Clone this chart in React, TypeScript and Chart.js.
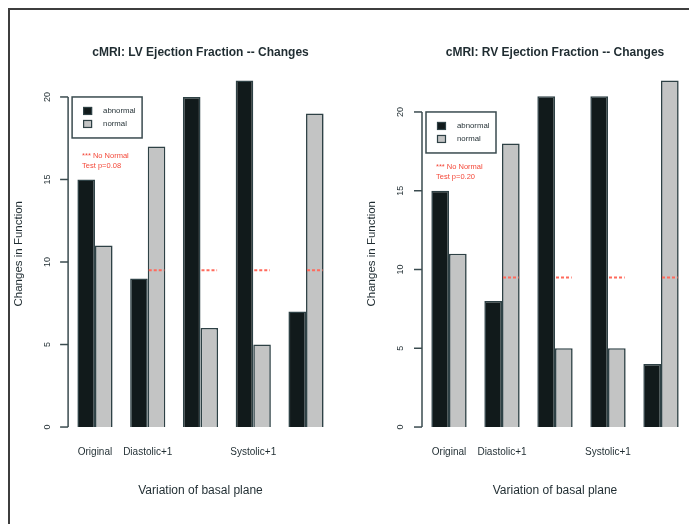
import React, { useEffect, useRef } from 'react';
import { Chart, registerables } from 'chart.js';

Chart.register(...registerables);

// ---------------- data ----------------
const categories = ['Original', 'Diastolic+1', '', 'Systolic+1', ''];
const seriesLabels = ['abnormal', 'normal'];

const lvAbnormal = [15, 9, 20, 21, 7];
const lvNormal = [11, 17, 6, 5, 19];
const lvMarker = [null, 9.5, 9.5, 9.5, 9.5];
const lvRange = [-0.84, 21.84];
const lvNote = ['*** No Normal', 'Test p=0.08'];
const lvNoteY = 16.1;

const rvAbnormal = [15, 8, 21, 21, 4];
const rvNormal = [11, 18, 5, 5, 22];
const rvMarker = [null, 9.5, 9.5, 9.5, 9.5];
const rvRange = [-0.88, 22.88];
const rvNote = ['*** No Normal', 'Test p=0.20'];
const rvNoteY = 16.2;

const yTicks = [0, 5, 10, 15, 20];
const legendTopValue = 20;

const lvTitle = 'cMRI: LV Ejection Fraction -- Changes';
const rvTitle = 'cMRI: RV Ejection Fraction -- Changes';
const xTitle = 'Variation of basal plane';
const yTitle = 'Changes in Function';

// ---------------- styling ----------------
const FONT = '"Liberation Sans", Arial, Helvetica, sans-serif';
const DARK = '#111a1b';
const GREY = '#c3c4c4';
const EDGE = '#2e4145';
const AXIS = '#3a4b4f';
const TEXT = '#1f2c31';
const RED = '#f4493a';

const rDecor = {
  id: 'rDecor',
  afterDatasetsDraw(chart: any, _args: any, o: any) {
    const { ctx, chartArea } = chart;
    const y = chart.scales.y;
    ctx.save();

    // R-style y axis
    const ax = chartArea.left - 0.5;
    const p0 = y.getPixelForValue(o.ticks[0]);
    const p1 = y.getPixelForValue(o.ticks[o.ticks.length - 1]);
    ctx.strokeStyle = AXIS;
    ctx.lineWidth = 1.5;
    ctx.beginPath();
    ctx.moveTo(ax, p0);
    ctx.lineTo(ax, p1);
    ctx.stroke();
    ctx.fillStyle = TEXT;
    ctx.font = `9px ${FONT}`;
    ctx.textAlign = 'center';
    ctx.textBaseline = 'middle';
    for (const t of o.ticks) {
      const py = y.getPixelForValue(t);
      ctx.beginPath();
      ctx.moveTo(ax, py);
      ctx.lineTo(ax - 8, py);
      ctx.stroke();
      ctx.save();
      ctx.translate(ax - 21, py);
      ctx.rotate(-Math.PI / 2);
      ctx.fillText(String(t), 0, 0);
      ctx.restore();
    }

    // red dashed markers over the "normal" bars
    const meta = chart.getDatasetMeta(1);
    ctx.strokeStyle = '#ff6a5c';
    ctx.lineWidth = 2;
    ctx.setLineDash([3, 2]);
    o.markers.forEach((v: number | null, i: number) => {
      if (v === null) return;
      const bar: any = meta.data[i];
      const py = y.getPixelForValue(v);
      ctx.beginPath();
      ctx.moveTo(bar.x - bar.width / 2 + 1, py);
      ctx.lineTo(bar.x + bar.width / 2 - 1, py);
      ctx.stroke();
    });
    ctx.setLineDash([]);

    // legend box
    const lx = chartArea.left + 3.5;
    const ly = y.getPixelForValue(o.legendY);
    ctx.strokeStyle = AXIS;
    ctx.lineWidth = 1.5;
    ctx.strokeRect(lx, ly, 70, 41);
    ctx.font = `7.8px ${FONT}`;
    ctx.textAlign = 'left';
    chart.data.datasets.forEach((ds: any, i: number) => {
      const cy = ly + 14 + i * 13;
      ctx.fillStyle = ds.backgroundColor;
      ctx.fillRect(lx + 11, cy - 4, 9, 8);
      ctx.lineWidth = 1.2;
      ctx.strokeStyle = EDGE;
      ctx.strokeRect(lx + 11.5, cy - 3.5, 8, 7);
      ctx.fillStyle = TEXT;
      ctx.fillText(ds.label, lx + 31, cy);
    });

    // red note
    ctx.fillStyle = RED;
    ctx.font = `7.5px ${FONT}`;
    const ny = y.getPixelForValue(o.noteY);
    ctx.fillText(o.note[0], chartArea.left + 13.5, ny - 5);
    ctx.fillText(o.note[1], chartArea.left + 13.5, ny + 5);

    ctx.restore();
  },
};

function buildConfig(p: any) {
  return {
    type: 'bar',
    data: {
      labels: categories,
      datasets: [
        {
          label: seriesLabels[0],
          data: p.abnormal,
          backgroundColor: DARK,
          borderColor: EDGE,
          borderWidth: 1.6,
          categoryPercentage: 2 / 3,
          barPercentage: 1,
        },
        {
          label: seriesLabels[1],
          data: p.normal,
          backgroundColor: GREY,
          borderColor: EDGE,
          borderWidth: 1.6,
          categoryPercentage: 2 / 3,
          barPercentage: 1,
        },
      ],
    },
    options: {
      responsive: false,
      maintainAspectRatio: false,
      animation: false,
      layout: { padding: { left: p.padLeft, right: p.padRight, top: 0, bottom: 0 } },
      plugins: {
        legend: { display: false },
        tooltip: { enabled: false },
        title: {
          display: true,
          text: p.title,
          fullSize: false,
          color: TEXT,
          font: { family: FONT, size: 12, weight: 'bold' },
          padding: { top: 37.8, bottom: 6.4 },
        },
        rDecor: {
          ticks: yTicks,
          markers: p.markers,
          legendY: legendTopValue,
          note: p.note,
          noteY: p.noteY,
        },
      },
      scales: {
        x: {
          grid: { display: false, drawTicks: false },
          border: { display: false },
          ticks: {
            autoSkip: false,
            maxRotation: 0,
            minRotation: 0,
            padding: 5.7,
            color: TEXT,
            font: { family: FONT, size: 10 },
          },
          title: {
            display: true,
            text: xTitle,
            color: TEXT,
            font: { family: FONT, size: 12 },
            padding: { top: 0, bottom: 25.8 },
          },
          afterFit: (s: any) => {
            s.height = 83.1;
          },
        },
        y: {
          min: p.range[0],
          max: p.range[1],
          grid: { display: false, drawTicks: false },
          border: { display: false },
          ticks: { display: false },
          title: {
            display: true,
            text: yTitle,
            color: TEXT,
            font: { family: FONT, size: 11.5 },
            padding: { top: 4.1, bottom: 0 },
          },
          afterFit: (s: any) => {
            s.width = p.yWidth;
          },
        },
      },
    },
    plugins: [rDecor],
  };
}

function RChart({ params, left }: { params: any; left: number }) {
  const ref = useRef<HTMLCanvasElement | null>(null);
  useEffect(() => {
    if (!ref.current) return;
    const chart = new Chart(ref.current, buildConfig(params) as any);
    return () => chart.destroy();
  }, []);
  return (
    <canvas
      ref={ref}
      width={342}
      height={516}
      style={{ position: 'absolute', left, top: 0, width: 342, height: 516 }}
    />
  );
}

const lvParams = {
  title: lvTitle,
  abnormal: lvAbnormal,
  normal: lvNormal,
  markers: lvMarker,
  range: lvRange,
  note: lvNote,
  noteY: lvNoteY,
  padLeft: 0,
  padRight: 17.6,
  yWidth: 60.6,
};

const rvParams = {
  title: rvTitle,
  abnormal: rvAbnormal,
  normal: rvNormal,
  markers: rvMarker,
  range: rvRange,
  note: rvNote,
  noteY: rvNoteY,
  padLeft: 11,
  padRight: 4.5,
  yWidth: 61.5,
};

export default function App() {
  useEffect(() => {
    document.documentElement.style.overflow = 'hidden';
  }, []);
  return (
    <div style={{ position: 'relative', width: 684, height: 516, background: '#fff' }}>
      <div
        style={{
          position: 'absolute',
          left: 0,
          top: 0,
          width: 684,
          height: 530,
          boxSizing: 'border-box',
          border: '2px solid #3e3e3e',
          borderBottom: 'none',
        }}
      />
      <RChart params={lvParams} left={0} />
      <RChart params={rvParams} left={342} />
    </div>
  );
}
